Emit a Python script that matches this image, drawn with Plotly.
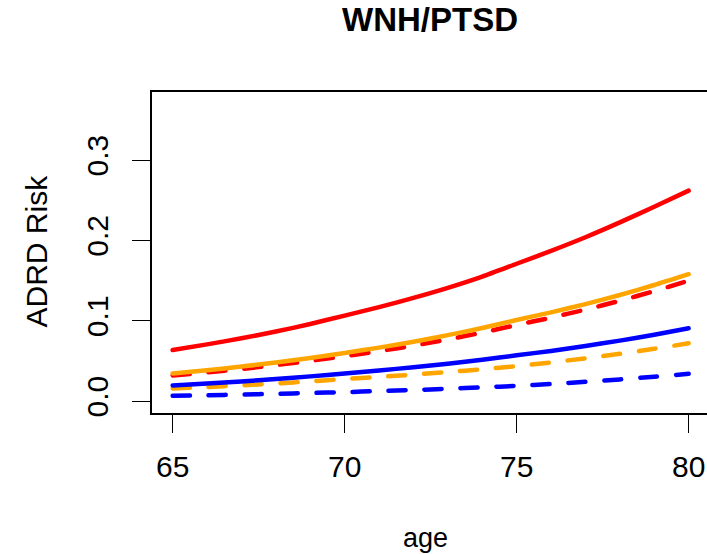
import plotly.graph_objects as go

ages = list(range(65, 81))

red_solid = [0.0636, 0.0706, 0.0782, 0.0866, 0.0960, 0.1065, 0.1170, 0.1285,
             0.1410, 0.1550, 0.1710, 0.1870, 0.2040, 0.2225, 0.2420, 0.2620]
red_dashed = [0.0320, 0.0358, 0.0400, 0.0448, 0.0501, 0.0560, 0.0622, 0.0691,
              0.0768, 0.0853, 0.0948, 0.1039, 0.1139, 0.1249, 0.1369, 0.1500]
orange_solid = [0.0345, 0.0385, 0.0430, 0.0481, 0.0537, 0.0600, 0.0666, 0.0740,
                0.0821, 0.0911, 0.1010, 0.1105, 0.1208, 0.1321, 0.1445, 0.1580]
orange_dashed = [0.0158, 0.0176, 0.0197, 0.0220, 0.0246, 0.0274, 0.0301, 0.0330,
                 0.0362, 0.0397, 0.0436, 0.0482, 0.0533, 0.0589, 0.0651, 0.0720]
blue_solid = [0.0195, 0.0219, 0.0245, 0.0274, 0.0308, 0.0345, 0.0381, 0.0422,
              0.0466, 0.0515, 0.0570, 0.0625, 0.0686, 0.0753, 0.0826, 0.0906]
blue_dashed = [0.0066, 0.0073, 0.0082, 0.0091, 0.0101, 0.0112, 0.0125, 0.0138,
               0.0154, 0.0171, 0.0190, 0.0213, 0.0240, 0.0270, 0.0303, 0.0340]

x_ticks = [65, 70, 75, 80]
y_ticks = [0.0, 0.1, 0.2, 0.3]
y_tick_labels = ["0.0", "0.1", "0.2", "0.3"]

series = [
    (red_solid, "#FF0000", "solid"),
    (red_dashed, "#FF0000", "dash"),
    (orange_solid, "#FFA500", "solid"),
    (orange_dashed, "#FFA500", "dash"),
    (blue_solid, "#0000FF", "solid"),
    (blue_dashed, "#0000FF", "dash"),
]

FONT = "Liberation Sans, Arial, sans-serif"
W, H = 707, 554
L, T, B = 152, 92, 141
plot_w = W - L
plot_h = H - T - B
px_per_age = 34.4
x0 = 64.4
x1 = x0 + plot_w / px_per_age

fig = go.Figure()
for vals, col, style in series:
    fig.add_trace(go.Scatter(
        x=ages, y=vals, mode="lines",
        line=dict(color=col, width=4.5, shape="spline", smoothing=0.6,
                  dash="solid" if style == "solid" else "17px,19px"),
        showlegend=False, hoverinfo="skip"))

def py(ypix):
    return (H - B - ypix) / plot_h

def px(xpix):
    return (xpix - L) / plot_w

fig.update_layout(
    width=W, height=H,
    margin=dict(l=L, r=0, t=T, b=B, autoexpand=False),
    paper_bgcolor="white", plot_bgcolor="white",
    font=dict(family=FONT, color="black"),
    xaxis=dict(range=[x0, x1], tickvals=x_ticks, ticktext=[str(v) for v in x_ticks],
               showgrid=False, zeroline=False, showline=True, linecolor="black",
               linewidth=1.5, mirror=True, ticks="outside", ticklen=18,
               tickwidth=1.2, tickcolor="black", tickfont=dict(size=30, family=FONT),
               ticklabelstandoff=8),
    yaxis=dict(range=[-0.0148, 0.3848], tickvals=y_ticks, ticktext=y_tick_labels,
               showgrid=False, zeroline=False, showline=True, linecolor="black",
               linewidth=1.5, mirror=False, ticks="outside", ticklen=18,
               tickwidth=1.2, tickcolor="black", tickfont=dict(size=30, family=FONT),
               tickangle=-90, ticklabelstandoff=12),
    annotations=[
        dict(text="<b>WNH/PTSD</b>", xref="paper", yref="paper",
             x=px(430), y=py(20), xanchor="center", yanchor="middle",
             showarrow=False, font=dict(size=33, family=FONT)),
        dict(text="age", xref="paper", yref="paper",
             x=px(425), y=py(538), xanchor="center", yanchor="middle",
             showarrow=False, font=dict(size=27, family=FONT)),
        dict(text="ADRD Risk", xref="paper", yref="paper",
             x=px(36), y=py(251.5), xanchor="center", yanchor="middle",
             textangle=-90, showarrow=False, font=dict(size=30, family=FONT)),
    ],
)

post = """
document.body.style.margin='0';
document.body.style.padding='0';
document.body.style.overflow='hidden';
document.documentElement.style.overflow='hidden';
var st=document.createElement('style');
st.innerHTML='.scatterlayer .js-line{stroke-linecap:round !important;}';
document.head.appendChild(st);
"""

fig.write_html("out.html", post_script=post, config={"displayModeBar": False})
